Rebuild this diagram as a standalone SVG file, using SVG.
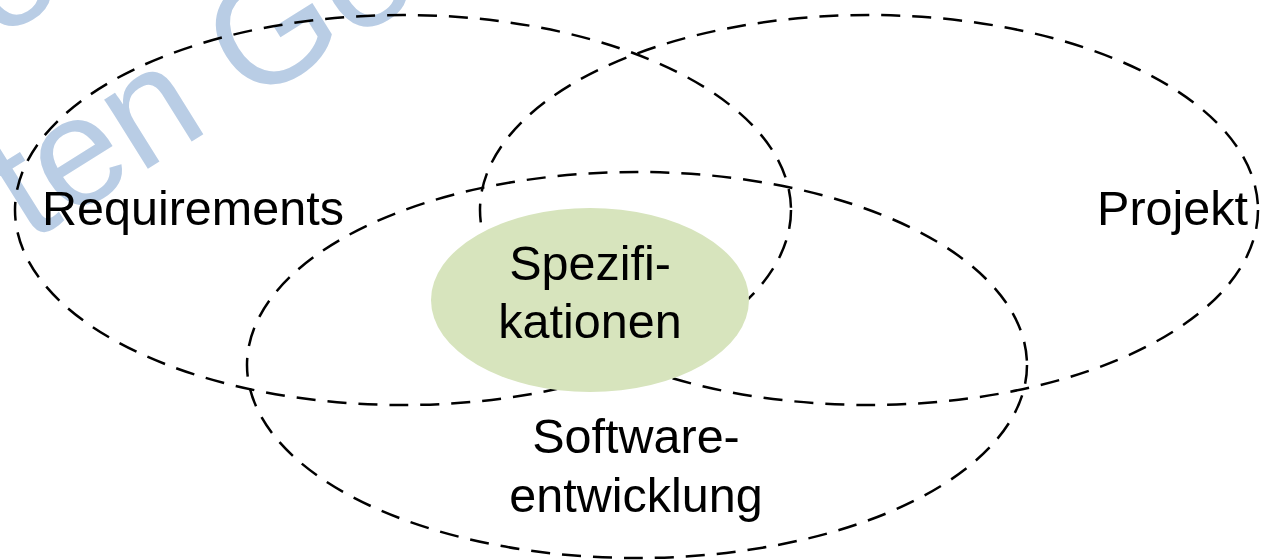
<svg xmlns="http://www.w3.org/2000/svg" width="1270" height="560" viewBox="0 0 1270 560">
  <style>
    .area { fill: none; stroke: #000; stroke-width: 2.5; stroke-dasharray: 19 12; }
    .core { fill: #D7E4BD; stroke: none; }
    .label { font-family: "Liberation Sans", Arial, sans-serif; font-size: 48.5px; fill: #000; }
    .mark { font-family: "Liberation Sans", Arial, sans-serif; font-size: 155px; fill: #B9CDE5; }
  </style>

  <rect width="1270" height="560" fill="#fff"/>

  <!-- background watermark -->
  <g id="watermark">
    <text class="mark" transform="translate(-4 41) rotate(-32)">o</text>
    <text class="mark" transform="translate(29 243) rotate(-32)">ten Ge</text>
  </g>

  <!-- no connectors in this diagram -->
  <g id="connectors"/>

  <g id="requirements">
    <ellipse class="area" cx="403" cy="210" rx="388" ry="195"/>
    <text class="label" x="42" y="225">Requirements</text>
  </g>

  <g id="projekt">
    <ellipse class="area" cx="869" cy="210" rx="389" ry="195"/>
    <text class="label" x="1248" y="225" text-anchor="end">Projekt</text>
  </g>

  <g id="softwareentwicklung">
    <ellipse class="area" cx="637" cy="365" rx="390" ry="193"/>
    <text class="label" x="636" y="453" text-anchor="middle">Software-</text>
    <text class="label" x="636" y="512" text-anchor="middle">entwicklung</text>
  </g>

  <g id="spezifikationen">
    <ellipse class="core" cx="590" cy="300" rx="159" ry="92"/>
    <text class="label" x="590" y="280" text-anchor="middle">Spezifi-</text>
    <text class="label" x="590" y="338" text-anchor="middle">kationen</text>
  </g>
</svg>
